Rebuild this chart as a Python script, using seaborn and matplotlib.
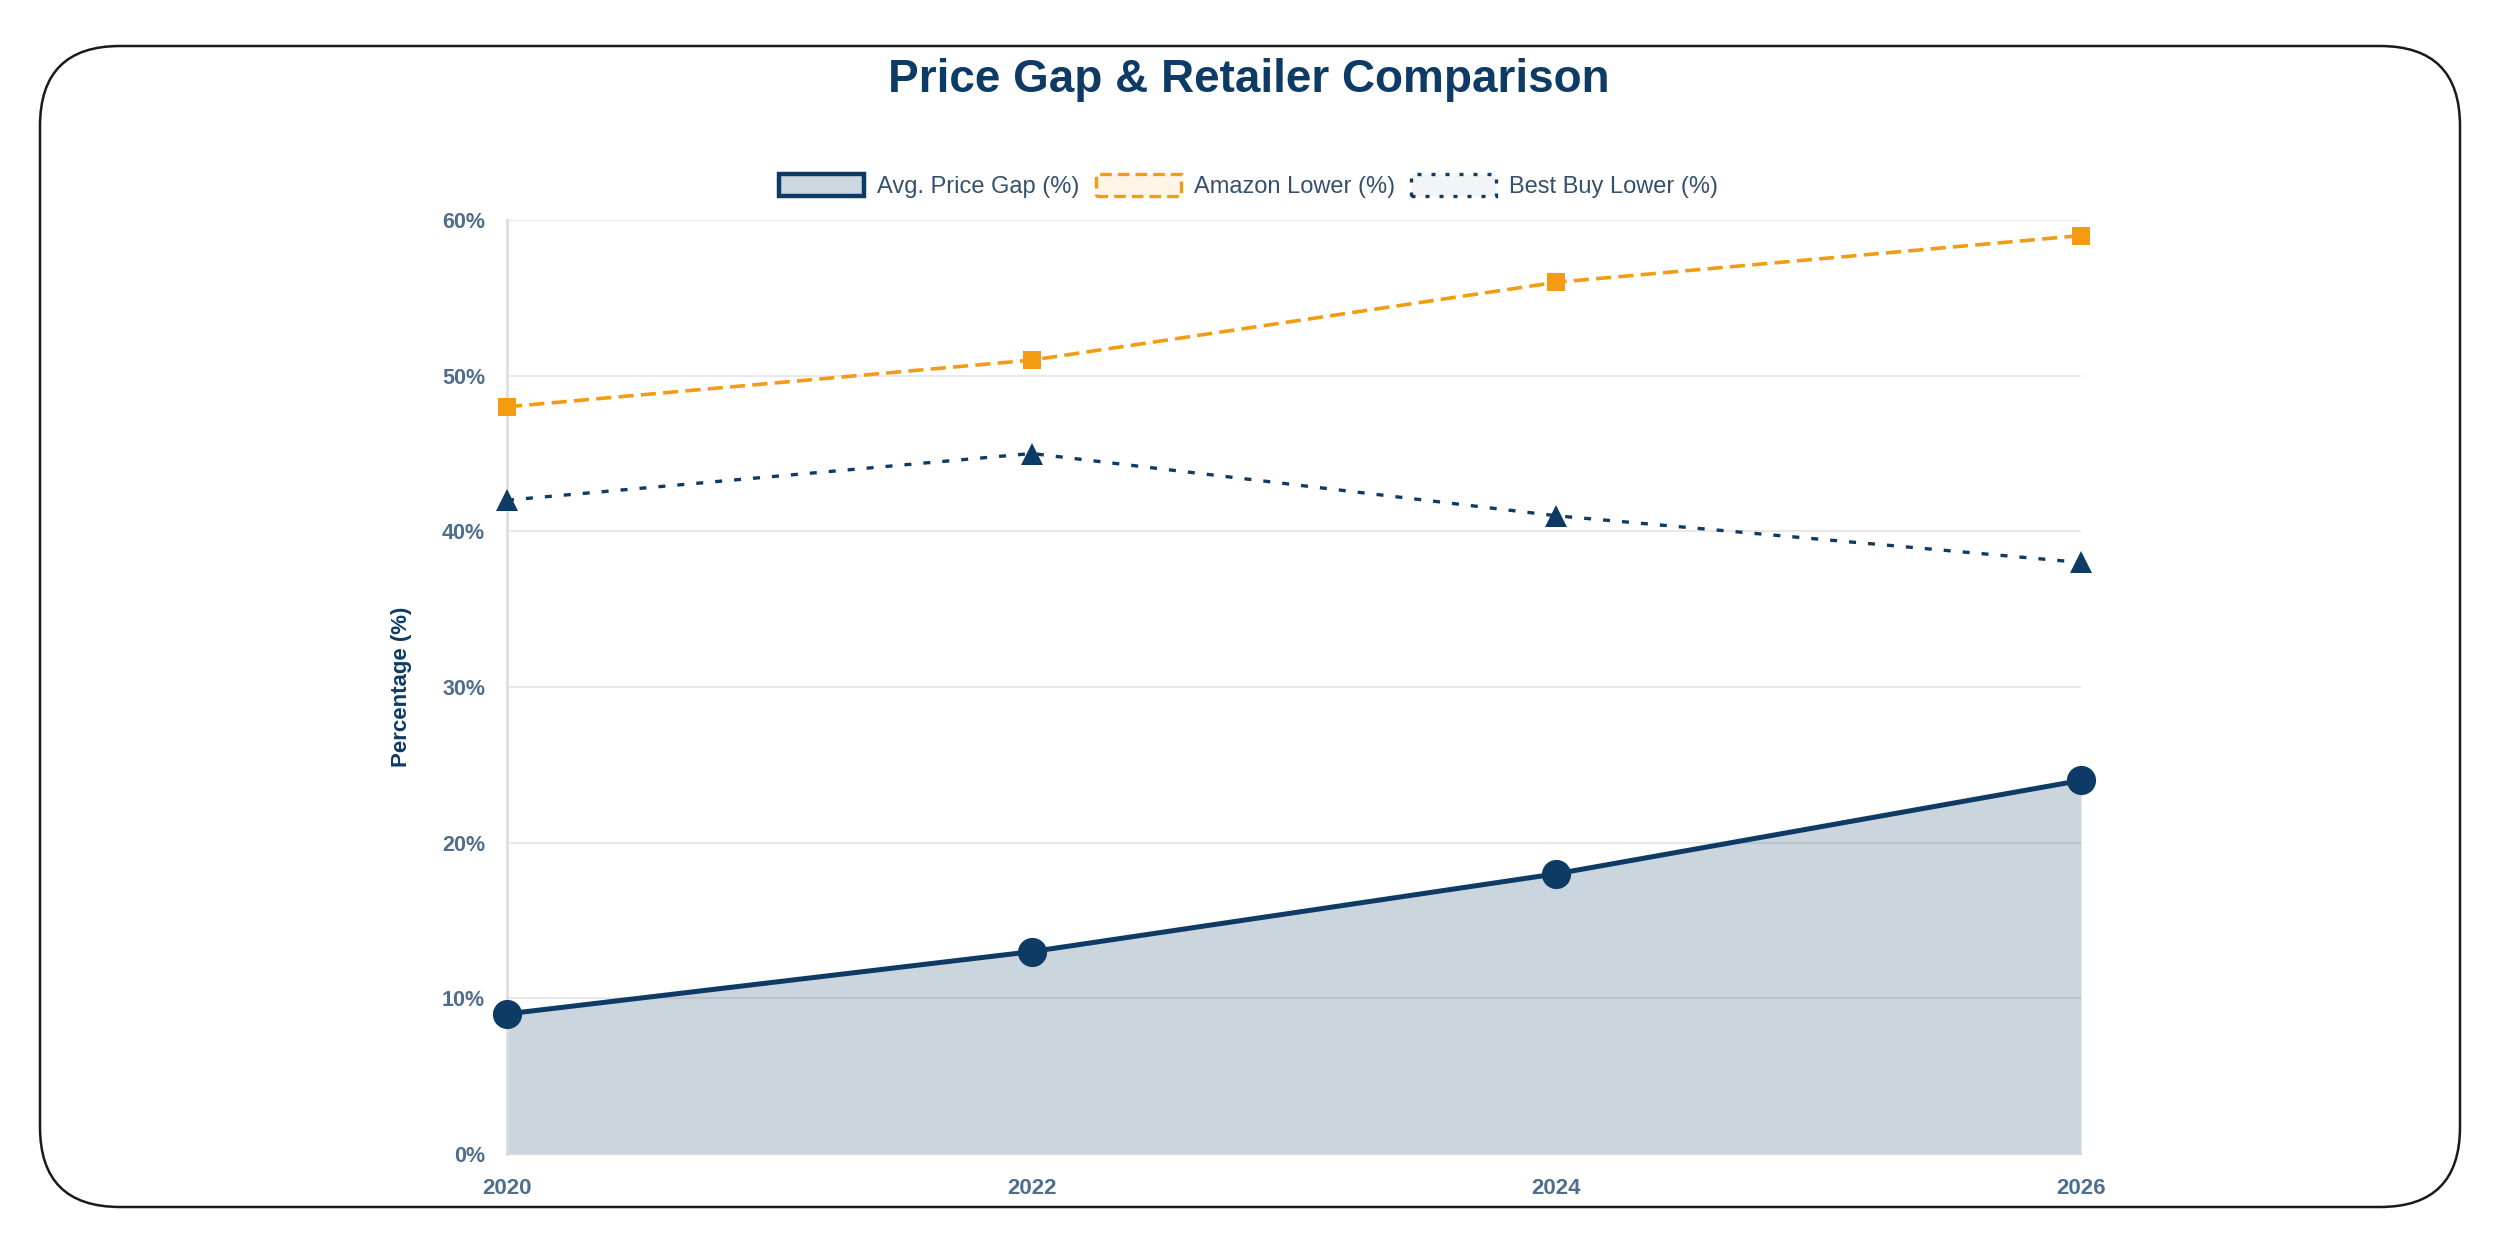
import matplotlib
matplotlib.use("Agg")
import matplotlib.pyplot as plt
import matplotlib.transforms as mtrans
from matplotlib.patches import FancyBboxPatch, Patch
from matplotlib.ticker import FuncFormatter
import seaborn as sns
import pandas as pd

# ---- data ----
years = [2020, 2022, 2024, 2026]
avg_price_gap = [9, 13, 18, 24]
amazon_lower = [48, 51, 56, 59]
bestbuy_lower = [42, 45, 41, 38]
series_labels = ["Avg. Price Gap (%)", "Amazon Lower (%)", "Best Buy Lower (%)"]
title_text = "Price Gap & Retailer Comparison"
ylabel_text = "Percentage (%)"
y_ticks = [0, 10, 20, 30, 40, 50, 60]

NAVY = "#0d3b66"
ORANGE = "#f39c12"
TICK_C = "#4f6d8c"
LEG_C = "#34506e"
GRID_C = "#e8e8e8"

sns.set_theme(style="white")
plt.rcParams["font.family"] = ["Liberation Sans", "DejaVu Sans"]

df = pd.DataFrame({"year": years, "avg": avg_price_gap,
                   "amazon": amazon_lower, "bestbuy": bestbuy_lower})

W, H = 2497, 1240
fig = plt.figure(figsize=(W / 100, H / 100), dpi=100)
fig.patch.set_facecolor("white")

# rounded border
border = FancyBboxPatch((40, H - 1207), 2420, 1161,
                        boxstyle="round,pad=0,rounding_size=80",
                        transform=mtrans.IdentityTransform(),
                        facecolor="none", edgecolor="#1a1a1a", linewidth=1.8)
fig.add_artist(border)

ax = fig.add_axes([507 / W, 1 - 1154 / H, (2081 - 507) / W, (1154 - 220) / H])
ax.set_facecolor("white")

# area fill for avg price gap
ax.fill_between(df["year"], df["avg"], 0, color=NAVY, alpha=0.21, linewidth=0, zorder=2)

sns.lineplot(data=df, x="year", y="avg", ax=ax, color=NAVY, linewidth=3.6,
             marker="o", markersize=21, markeredgewidth=0, zorder=4, clip_on=False)
sns.lineplot(data=df, x="year", y="amazon", ax=ax, color=ORANGE, linewidth=2.6,
             linestyle=(0, (4.2, 2.0)), marker="s", markersize=12.5,
             markeredgewidth=0, zorder=4, clip_on=False)
sns.lineplot(data=df, x="year", y="bestbuy", ax=ax, color=NAVY, linewidth=2.4,
             linestyle=(0, (2.1, 3.6)), marker="^", markersize=16,
             markeredgewidth=0, zorder=4, clip_on=False)

ax.set_xlim(years[0], years[-1])
ax.set_ylim(y_ticks[0], y_ticks[-1])
ax.set_xticks(years)
ax.set_xticklabels([str(y) for y in years])
ax.set_yticks(y_ticks)
ax.yaxis.set_major_formatter(FuncFormatter(lambda v, p: f"{int(v)}%"))

ax.set_axisbelow(True)
ax.yaxis.grid(True, color=GRID_C, linewidth=1.5)
ax.xaxis.grid(False)
for s in ["top", "right"]:
    ax.spines[s].set_visible(False)
ax.spines["left"].set_color("#dedede")
ax.spines["left"].set_linewidth(2)
ax.spines["bottom"].set_color("#d2d8de")
ax.spines["bottom"].set_linewidth(1.5)

ax.tick_params(axis="y", length=10.8, width=1.2, color=GRID_C, pad=5,
               labelsize=15.5, labelcolor=TICK_C)
ax.tick_params(axis="x", length=0, pad=17, labelsize=16, labelcolor=TICK_C)
for lab in ax.get_xticklabels():
    lab.set_fontweight("bold")
for lab in ax.get_yticklabels():
    lab.set_fontweight("bold")

ax.set_xlabel("")
ax.set_ylabel(ylabel_text, fontsize=16, fontweight="bold", color=NAVY)
ax.yaxis.set_label_coords((412 - 507) / (2081 - 507), 0.5)

fig.text(0.5, 1 - 80 / H, title_text, ha="center", va="center",
         fontsize=33, fontweight="bold", color=NAVY)

handles = [
    Patch(facecolor="#ccd7e0", edgecolor=NAVY, linewidth=3.2, linestyle="-"),
    Patch(facecolor="#fef5e7", edgecolor=ORANGE, linewidth=2.4, linestyle=(0, (3.5, 1.8))),
    Patch(facecolor="#f2f4f7", edgecolor=NAVY, linewidth=2.4, linestyle=(0, (1.2, 3.0))),
]
leg = fig.legend(handles, series_labels, loc="center", bbox_to_anchor=(0.5, 1 - 186 / H),
                 ncol=3, frameon=False, fontsize=17, handlelength=3.6, handleheight=1.1,
                 handletextpad=0.55, columnspacing=0.7)
for t in leg.get_texts():
    t.set_color(LEG_C)

fig.savefig("out.png", dpi=100, facecolor="white")
